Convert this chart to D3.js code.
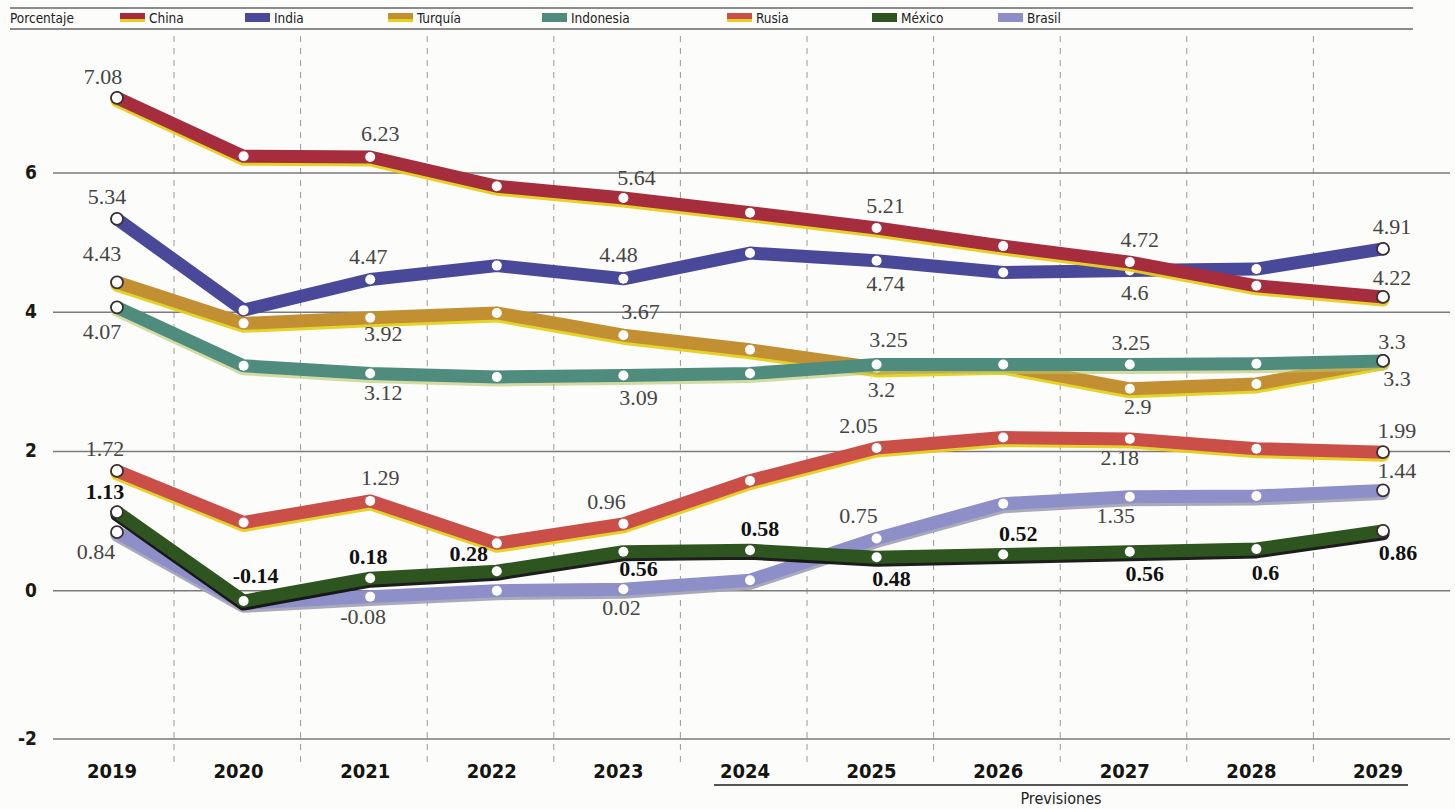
<!DOCTYPE html>
<html>
<head>
<meta charset="utf-8">
<script src="https://cdn.jsdelivr.net/npm/d3@7"></script>
<style>
  html, body { margin: 0; padding: 0; background: #fcfcfa; }
  svg { display: block; }
  .cond { font-family: "DejaVu Sans Condensed", "Liberation Sans Narrow", "Roboto Condensed", Roboto, sans-serif; font-stretch: condensed; }
  .num { font-family: "Liberation Serif", "DejaVu Serif", serif; }
</style>
</head>
<body>
<svg id="chart" width="1455" height="809"></svg>
<script>
// ---------- DATA ----------
const years = [2019, 2020, 2021, 2022, 2023, 2024, 2025, 2026, 2027, 2028, 2029];
const yTicks = [-2, 0, 2, 4, 6];

const china     = [7.08, 6.24, 6.23, 5.81, 5.64, 5.43, 5.21, 4.95, 4.72, 4.38, 4.22];
const india     = [5.34, 4.03, 4.47, 4.67, 4.48, 4.85, 4.74, 4.57, 4.60, 4.62, 4.91];
const turquia   = [4.43, 3.84, 3.92, 3.99, 3.67, 3.46, 3.20, 3.24, 2.90, 2.97, 3.30];
const indonesia = [4.07, 3.23, 3.12, 3.07, 3.09, 3.12, 3.25, 3.25, 3.25, 3.26, 3.30];
const rusia     = [1.72, 0.98, 1.29, 0.68, 0.96, 1.58, 2.05, 2.20, 2.18, 2.04, 1.99];
const mexico    = [1.13, -0.14, 0.18, 0.28, 0.56, 0.58, 0.48, 0.52, 0.56, 0.60, 0.86];
const brasil    = [0.84, -0.17, -0.08, 0.00, 0.02, 0.15, 0.75, 1.25, 1.35, 1.36, 1.44];

const legendNames = ["China", "India", "Turquía", "Indonesia", "Rusia", "México", "Brasil"];
const unitLabel = "Porcentaje";
const forecastLabel = "Previsiones";
const forecastFrom = 2024;

// which years are labelled, and above (a) or below (b)
const chinaLab     = {2019:"a", 2021:"a", 2023:"a", 2025:"a", 2027:"a", 2029:"a"};
const indiaLab     = {2019:"a", 2021:"a", 2023:"a", 2025:"b", 2027:"b", 2029:"a"};
const turquiaLab   = {2019:"a", 2021:"b", 2023:"a", 2025:"b", 2027:"b", 2029:"b"};
const indonesiaLab = {2019:"b", 2021:"b", 2023:"b", 2025:"a", 2027:"a", 2029:"a"};
const rusiaLab     = {2019:"a", 2021:"a", 2023:"a", 2025:"a", 2027:"b", 2029:"a"};
const mexicoLab    = {2019:"a", 2020:"a", 2021:"a", 2022:"a", 2023:"b", 2024:"a", 2025:"b", 2026:"a", 2027:"b", 2028:"b", 2029:"b"};
const brasilLab    = {2019:"b", 2021:"b", 2023:"b", 2025:"a", 2027:"b", 2029:"a"};

// ---------- STYLE / LAYOUT ----------
const styles = {
  "China":     {color:"#a52d3e", edge:"#e6cf1e", values:china, lab:chinaLab},
  "India":     {color:"#4a4898", edge:null,      values:india, lab:indiaLab},
  "Turquía":   {color:"#c38f33", edge:"#e4d11c", values:turquia, lab:turquiaLab},
  "Indonesia": {color:"#4f8c7e", edge:"#b8c46a", values:indonesia, lab:indonesiaLab},
  "Rusia":     {color:"#c94f48", edge:"#e6cf1e", values:rusia, lab:rusiaLab},
  "México":    {color:"#2e5520", edge:"#111111", values:mexico, lab:mexicoLab, bold:true},
  "Brasil":    {color:"#8e8fc9", edge:"#a4a4b8", values:brasil, lab:brasilLab}
};
const drawOrder = ["Brasil", "México", "Rusia", "Turquía", "Indonesia", "India", "China"];

// label nudges (dx, dy from point)
const nudge = {
  "China":     {2019:[-14,-14], 2021:[10,-16], 2023:[13,-13], 2025:[9,-15], 2027:[10,-15], 2029:[9,-12]},
  "India":     {2019:[-10,-15], 2021:[-2,-16], 2023:[-5,-17], 2025:[9,30], 2027:[5,30], 2029:[9,-15]},
  "Turquía":   {2019:[-15,-21], 2021:[13,23], 2023:[17,-16], 2025:[5,29], 2027:[8,25], 2029:[14,25]},
  "Indonesia": {2019:[-15,32], 2021:[13,27], 2023:[15,29], 2025:[12,-17], 2027:[1,-14], 2029:[9,-12]},
  "Rusia":     {2019:[-12,-15], 2021:[10,-16], 2023:[-17,-15], 2025:[-18,-15], 2027:[-10,26], 2029:[14,-14]},
  "México":    {2019:[-12,-13], 2020:[12,-18], 2021:[-2,-14], 2022:[-28,-10], 2023:[15,24], 2024:[10,-14],
                2025:[15,29], 2026:[15,-13], 2027:[15,29], 2028:[9,31], 2029:[15,29]},
  "Brasil":    {2019:[-21,27], 2021:[-7,27], 2023:[-2,26], 2025:[-18,-15], 2027:[-14,26], 2029:[14,-12]}
};

const svg = d3.select("#chart");

const x = d3.scalePoint().domain(years).range([117, 1383]);
const y = d3.scaleLinear().domain([-2, 0, 6]).range([739, 590.7, 173]);

// ---------- Header / legend ----------
svg.append("line").attr("x1", 10).attr("x2", 1413).attr("y1", 8).attr("y2", 8)
  .attr("stroke", "#666").attr("stroke-width", 1.6);
svg.append("line").attr("x1", 10).attr("x2", 1413).attr("y1", 29).attr("y2", 29)
  .attr("stroke", "#666").attr("stroke-width", 1.6);
svg.append("text").attr("class", "cond").attr("x", 10).attr("y", 23)
  .attr("font-size", 13.5).attr("fill", "#222").text(unitLabel);

const legendX = [120, 245, 388, 542, 727, 872, 998];
legendNames.forEach((name, i) => {
  const s = styles[name];
  const g = svg.append("g").attr("transform", `translate(${legendX[i]},13)`);
  g.append("rect").attr("width", 25).attr("height", 9).attr("fill", s.color);
  if (s.edge && name !== "México" && name !== "Brasil" && name !== "Indonesia") {
    g.append("rect").attr("y", 6).attr("width", 25).attr("height", 3).attr("fill", s.edge);
  }
  g.append("text").attr("class", "cond").attr("x", 29).attr("y", 10)
    .attr("font-size", 13.5).attr("fill", "#222").text(name);
});

// ---------- Grid ----------
const grid = svg.append("g");
years.slice(0, -1).forEach(yr => {
  grid.append("line")
    .attr("x1", x(yr) + 57).attr("x2", x(yr) + 57)
    .attr("y1", 36).attr("y2", 762)
    .attr("stroke", "#9a9a9a").attr("stroke-width", 1)
    .attr("stroke-dasharray", "6,6");
});
yTicks.forEach(t => {
  grid.append("line")
    .attr("x1", 53).attr("x2", 1450)
    .attr("y1", y(t)).attr("y2", y(t))
    .attr("stroke", "#7a7a7a").attr("stroke-width", 1.5);
  grid.append("text").attr("class", "cond")
    .attr("x", 37).attr("y", y(t) + 6)
    .attr("text-anchor", "end").attr("font-size", 19).attr("font-weight", "bold")
    .attr("fill", "#1a1a10").text(t);
});

// ---------- X axis labels ----------
years.forEach(yr => {
  svg.append("text").attr("class", "cond")
    .attr("x", x(yr) - 5).attr("y", 778)
    .attr("text-anchor", "middle").attr("font-size", 20).attr("font-weight", "bold")
    .attr("fill", "#141410").text(yr);
});
svg.append("line")
  .attr("x1", x(forecastFrom) - 36).attr("x2", x(2029) + 25)
  .attr("y1", 785).attr("y2", 785)
  .attr("stroke", "#555").attr("stroke-width", 2);
svg.append("text").attr("class", "cond")
  .attr("x", (x(forecastFrom) - 36 + x(2029) + 25) / 2).attr("y", 804)
  .attr("text-anchor", "middle").attr("font-size", 16).attr("fill", "#222")
  .text(forecastLabel);

// ---------- Lines ----------
const line = d3.line().x((d, i) => x(years[i])).y(d => y(d));
const lines = svg.append("g");
drawOrder.forEach(name => {
  const s = styles[name];
  const g = lines.append("g");
  if (s.edge) {
    g.append("path").attr("d", line(s.values))
      .attr("transform", "translate(0,3)")
      .attr("fill", "none").attr("stroke", s.edge).attr("stroke-width", 13)
      .attr("stroke-linejoin", "round").attr("stroke-linecap", "round")
      .attr("opacity", name === "Indonesia" ? 0.6 : 0.95);
  }
  g.append("path").attr("d", line(s.values))
    .attr("fill", "none").attr("stroke", s.color).attr("stroke-width", 13)
    .attr("stroke-linejoin", "round").attr("stroke-linecap", "round");
  s.values.forEach((v, i) => {
    const end = i === 0 || i === s.values.length - 1;
    g.append("circle").attr("cx", x(years[i])).attr("cy", y(v))
      .attr("r", end ? 6 : 5)
      .attr("fill", "#ffffff")
      .attr("stroke", end ? "#3a3030" : "none").attr("stroke-width", end ? 1.8 : 0);
  });
});

// ---------- Value labels ----------
const labels = svg.append("g");
drawOrder.forEach(name => {
  const s = styles[name];
  Object.keys(s.lab).forEach(k => {
    const yr = +k;
    const i = years.indexOf(yr);
    const v = s.values[i];
    const nd = nudge[name][yr] || [10, s.lab[k] === "a" ? -15 : 28];
    labels.append("text").attr("class", "num")
      .attr("x", x(yr) + nd[0]).attr("y", y(v) + nd[1])
      .attr("text-anchor", "middle")
      .attr("font-size", 22)
      .attr("font-weight", s.bold ? "bold" : "normal")
      .attr("fill", s.bold ? "#111" : "#454545")
      .text(String(v));
  });
});
</script>
</body>
</html>
